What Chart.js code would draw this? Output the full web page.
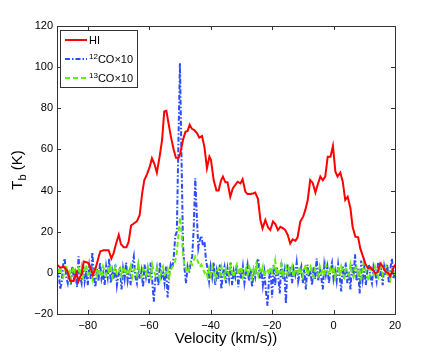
<!DOCTYPE html>
<html>
<head>
<meta charset="utf-8">
<script src="https://cdn.jsdelivr.net/npm/chart.js@4"></script>
<style>
  html, body { margin: 0; padding: 0; background: #fff; }
  #wrap { width: 436px; height: 354px; position: relative; }
</style>
</head>
<body>
<div id="wrap"><canvas id="myChart" width="436" height="354"></canvas></div>
<script>
// HI spectrum (velocity km/s, Tb K)
let hiVel = [-90, -88.9, -87.8, -86.7, -85.7, -84.6, -83.7, -83.0, -81.9, -81.3,
  -80.0, -79.2, -78.3, -77.3, -76.4, -75.9, -74.8, -73.9, -73.2, -72.3,
  -71.6, -70.8, -69.9, -69.2, -68.3, -67.4, -66.7, -65.9, -65.0, -64.0,
  -63.1, -62.3, -61.6, -60.7, -59.8, -59.1, -58.3, -57.5, -56.6, -55.8,
  -55.1, -54.4, -53.7, -52.9, -52.0, -51.3, -50.4, -49.9, -49.0, -48.2,
  -47.5, -46.8, -46.1, -45.3, -44.4, -43.7, -42.8, -42.0, -41.2, -40.4,
  -39.9, -39.0, -38.1, -37.4, -36.6, -36.0, -35.2, -34.5, -33.6, -32.8,
  -32.0, -31.2, -30.3, -29.6, -28.7, -28.0, -27.1, -26.2, -25.5, -24.6,
  -23.8, -23.1, -22.2, -21.3, -20.6, -19.7, -18.9, -18.1, -17.3, -16.4,
  -15.7, -14.9, -14.1, -13.3, -12.4, -11.7, -10.8, -9.9, -9.2, -8.4,
  -7.6, -6.8, -5.9, -5.2, -4.3, -3.5, -2.7, -1.9, -1.0, -0.2,
  0.6, 1.3, 2.2, 3.0, 3.8, 4.6, 5.5, 6.2, 7.1, 8.0,
  8.7, 9.6, 10.3, 11.2, 12.0, 12.7, 13.6, 14.4, 15.2, 16.1,
  16.9, 17.7, 18.5, 19.3, 20.0];
let hiTb = [4, 2.5, 3, 1, -4, -4, 0, -4, 0, 5.5,
  5, 3, -1, 3, 8, 10.5, 11, 11, 11, 7,
  9.5, 14, 18.5, 14, 12.5, 12.5, 15, 23, 24, 25,
  28, 38.5, 45, 48, 51.6, 55.7, 53, 48.7, 56.5, 64.6,
  78.4, 78.8, 72.7, 66, 59.7, 56, 56, 58, 64.6, 68.6,
  69, 72, 70, 69.4, 67.8, 65.7, 66.5, 61, 50.8, 56.5,
  55, 45, 40, 40, 45, 46.8, 44, 44, 37, 41,
  42.7, 44.3, 43.5, 45.5, 39.5, 38.3, 38.3, 38.6, 39, 36,
  25.7, 21.6, 25.7, 22, 20.8, 25, 23.6, 20.8, 22.4, 21.6,
  20.8, 18.4, 14.3, 16.3, 15.6, 17.3, 25, 27.3, 30.5, 35.4,
  45.1, 43.8, 39, 42.7, 46.8, 45, 46.8, 56.5, 56.5, 61.7,
  49.2, 46.8, 48.7, 44.3, 35.4, 37, 31.4, 22.4, 17.6, 17.3,
  11.9, 7.9, 4.6, 2.2, 2.7, 1.4, -0.2, 0.5, 4.6, 3,
  0.6, 0, -1.5, 1.7, 4];

// CO channels (km/s), one row per 10 km/s
let coVel = [-90, -89.5, -89, -88.5, -88, -87.5, -87, -86.5, -86, -85.5, -85, -84.5, -84, -83.5, -83, -82.5, -82, -81.5, -81, -80.5,
  -80, -79.5, -79, -78.5, -78, -77.5, -77, -76.5, -76, -75.5, -75, -74.5, -74, -73.5, -73, -72.5, -72, -71.5, -71, -70.5,
  -70, -69.5, -69, -68.5, -68, -67.5, -67, -66.5, -66, -65.5, -65, -64.5, -64, -63.5, -63, -62.5, -62, -61.5, -61, -60.5,
  -60, -59.5, -59, -58.5, -58, -57.5, -57, -56.5, -56, -55.5, -55, -54.5, -54, -53.5, -53, -52.5, -52, -51.5, -51, -50.5,
  -50, -49.5, -49, -48.5, -48, -47.5, -47, -46.5, -46, -45.5, -45, -44.5, -44, -43.5, -43, -42.5, -42, -41.5, -41, -40.5,
  -40, -39.5, -39, -38.5, -38, -37.5, -37, -36.5, -36, -35.5, -35, -34.5, -34, -33.5, -33, -32.5, -32, -31.5, -31, -30.5,
  -30, -29.5, -29, -28.5, -28, -27.5, -27, -26.5, -26, -25.5, -25, -24.5, -24, -23.5, -23, -22.5, -22, -21.5, -21, -20.5,
  -20, -19.5, -19, -18.5, -18, -17.5, -17, -16.5, -16, -15.5, -15, -14.5, -14, -13.5, -13, -12.5, -12, -11.5, -11, -10.5,
  -10, -9.5, -9, -8.5, -8, -7.5, -7, -6.5, -6, -5.5, -5, -4.5, -4, -3.5, -3, -2.5, -2, -1.5, -1, -0.5,
  0, 0.5, 1, 1.5, 2, 2.5, 3, 3.5, 4, 4.5, 5, 5.5, 6, 6.5, 7, 7.5, 8, 8.5, 9, 9.5,
  10, 10.5, 11, 11.5, 12, 12.5, 13, 13.5, 14, 14.5, 15, 15.5, 16, 16.5, 17, 17.5, 18, 18.5, 19, 19.5,
  20];
// 12CO x10
let co12 = [-3, 2, -8, -5, 4, 7, -2, -5, 1, -6, 3, -3, 0, -7, 8, -2, -5, 4, -4, 1,
  -6, 3, -3, 10, -2, -7, 2, -4, 5, -3, 0, -6, 3, -2, 7, -5, 1, -3, 4, -6,
  -1, 3, -8, 2, -3, 5, -4, 0, -6, 4, 8, -2, -5, 3, -3, 1, -7, 4, -2, 2,
  -5, 5, -4, -14, -3, 2, -6, 5, -2, 0, -5, 3, -12, -1, 4, 2, 8, 18, 20, 62,
  102, 58, 14, 2, -5, 3, 0, 5, 8, 22, 46, 28, 12, 16, 18, 13, 15, 6, 2, -4,
  3, -2, 5, -6, 1, -3, 4, -8, 0, 3, -5, 2, -3, 5, -6, 1, -2, 4, -7, 2,
  -3, 3, -5, 0, 4, -4, 2, -7, 1, -2, 5, 7, -3, 2, -6, 0, -9, -16, -3, 2,
  -12, 4, -6, 3, -2, -10, 5, -3, 1, -15, 4, -2, 3, -5, 2, -1, 5, -4, 0, 3,
  -5, 2, -8, 4, -2, 1, -6, 3, -3, 7, -4, 2, -2, -8, 4, -1, 3, -5, 2, 5,
  -3, 1, -4, 4, -2, -9, 3, -3, 5, -5, 1, -8, 4, -2, 9, -4, 2, -10, 6, -3,
  3, -6, 1, 4, -2, -5, 3, 0, -4, 5, -2, 2, -6, 3, -1, 4, -5, 2, 7, -3,
  1];
// 13CO x10
let co13 = [2, -1, 3, 0, -2, 1, 4, -1, 2, -3, 1, 3, -2, 0, 2, -1, 3, -2, 1, 4,
  -1, 0, 2, -3, 1, 3, -1, 2, 0, -2, 3, 1, -1, 2, 0, 4, -2, 1, 3, -1,
  0, 2, -2, 3, 1, -1, 2, 0, 3, -2, 1, 2, -1, 4, 0, -2, 2, 1, -1, 3,
  0, -2, 4, 1, -1, 2, 0, -3, 1, 3, -1, 0, 2, -2, 1, 3, 4, 6, 10, 18,
  27, 20, 9, 3, 2, 0, 3, 5, 4, 6, 8, 7, 5, 3, 4, 2, 0, 1, -2, 2,
  -1, 3, 0, -3, 1, 2, -1, 3, 0, -2, 2, 1, -1, 3, 0, -2, 2, 4, -1, 1,
  3, -2, 0, 2, -1, 3, 1, -2, 2, 0, 4, -1, 2, 0, 3, -2, 1, 2, -1, 3,
  0, 2, 6, -1, 2, 0, 4, -2, 1, 3, -1, 2, 0, 3, -2, 1, 2, -1, 3, 0,
  -2, 2, 4, -1, 1, 3, 0, -2, 2, 1, -1, 3, 0, 2, -2, 4, 1, -1, 2, 0,
  3, -2, 1, 2, -1, 3, 0, -2, 2, 1, -1, 4, 0, -2, 2, 3, -1, 1, -3, 2,
  7, 0, -2, -4, 2, 1, -1, 3, 0, -2, 2, 4, -1, 1, 3, -2, 0, -3, 2, 1,
  -1];

let xTicks = [-80, -60, -40, -20, 0, 20];
let yTicks = [-20, 0, 20, 40, 60, 80, 100, 120];

const RED = '#ff0000';
const BLUE = '#2b4cff';
const GREEN = '#66f000';
const FONT = '"Liberation Sans", Arial, sans-serif';

function pts(xs, ys) {
  return xs.map((x, i) => ({ x: x, y: ys[i] }));
}

const legendItems = [
  { sup: '', text: 'HI', color: RED, dash: [] },
  { sup: '12', text: 'CO\u00d710', color: BLUE, dash: [5, 2, 1.5, 2] },
  { sup: '13', text: 'CO\u00d710', color: GREEN, dash: [5, 3] }
];

const frame = {
  id: 'frame',
  afterDraw(chart) {
    const ctx = chart.ctx;
    const a = chart.chartArea;
    const xs = chart.scales.x, ys = chart.scales.y;
    ctx.save();
    ctx.strokeStyle = '#333';
    ctx.lineWidth = 1;
    ctx.strokeRect(Math.round(a.left) + 0.5, Math.round(a.top) + 0.5,
      Math.round(a.right - a.left), Math.round(a.bottom - a.top));
    ctx.beginPath();
    xTicks.forEach(v => {
      const px = Math.round(xs.getPixelForValue(v)) + 0.5;
      ctx.moveTo(px, a.bottom); ctx.lineTo(px, a.bottom - 4);
      ctx.moveTo(px, a.top); ctx.lineTo(px, a.top + 4);
    });
    yTicks.forEach(v => {
      const py = Math.round(ys.getPixelForValue(v)) + 0.5;
      ctx.moveTo(a.left, py); ctx.lineTo(a.left + 4, py);
      ctx.moveTo(a.right, py); ctx.lineTo(a.right - 4, py);
    });
    ctx.stroke();

    // legend
    const lx = a.left + 3, ly = a.top + 4, lw = 77, lh = 57;
    ctx.fillStyle = '#fff';
    ctx.fillRect(lx, ly, lw, lh);
    ctx.strokeStyle = '#333';
    ctx.strokeRect(Math.round(lx) + 0.5, Math.round(ly) + 0.5, lw, lh);
    legendItems.forEach((it, i) => {
      const cy = ly + 10 + i * 19;
      ctx.strokeStyle = it.color;
      ctx.lineWidth = 2;
      ctx.setLineDash(it.dash);
      ctx.beginPath();
      ctx.moveTo(lx + 5, cy); ctx.lineTo(lx + 27, cy);
      ctx.stroke();
      ctx.setLineDash([]);
      ctx.fillStyle = '#000';
      ctx.textBaseline = 'alphabetic';
      ctx.textAlign = 'left';
      let tx = lx + 29;
      if (it.sup) {
        ctx.font = '8px ' + FONT;
        ctx.fillText(it.sup, tx, cy);
        tx += ctx.measureText(it.sup).width;
      }
      ctx.font = '11px ' + FONT;
      ctx.fillText(it.text, tx, cy + 4);
    });

    // x title
    ctx.fillStyle = '#000';
    ctx.font = '15px ' + FONT;
    ctx.textAlign = 'center';
    ctx.textBaseline = 'alphabetic';
    ctx.fillText('Velocity (km/s))', (a.left + a.right) / 2, 343);

    // y title with subscript
    ctx.translate(22, (a.top + a.bottom) / 2);
    ctx.rotate(-Math.PI / 2);
    ctx.font = '15px ' + FONT;
    const wT = ctx.measureText('T').width;
    const wK = ctx.measureText(' (K)').width;
    ctx.font = '11px ' + FONT;
    const wb = ctx.measureText('b').width;
    let sx = -(wT + wb + wK) / 2;
    ctx.textAlign = 'left';
    ctx.font = '15px ' + FONT;
    ctx.fillText('T', sx, 0);
    sx += wT;
    ctx.font = '11px ' + FONT;
    ctx.fillText('b', sx, 4);
    sx += wb;
    ctx.font = '15px ' + FONT;
    ctx.fillText(' (K)', sx, 0);
    ctx.restore();
  }
};

const ctx = document.getElementById('myChart').getContext('2d');
new Chart(ctx, {
  type: 'line',
  data: {
    datasets: [
      { label: 'HI', data: pts(hiVel, hiTb), borderColor: RED, borderWidth: 2, pointRadius: 0, tension: 0, fill: false },
      { label: '13CO', data: pts(coVel, co13), borderColor: GREEN, borderWidth: 2, borderDash: [5, 3], pointRadius: 0, tension: 0, fill: false },
      { label: '12CO', data: pts(coVel, co12), borderColor: BLUE, borderWidth: 2, borderDash: [5, 2, 1.5, 2], pointRadius: 0, tension: 0, fill: false }
    ]
  },
  options: {
    responsive: false,
    animation: false,
    layout: { padding: { left: 0, top: 26, right: 41, bottom: 0 } },
    plugins: { legend: { display: false }, tooltip: { enabled: false } },
    scales: {
      x: {
        type: 'linear',
        min: -90, max: 20,
        grid: { display: false, drawTicks: false },
        border: { display: false },
        afterBuildTicks: s => { s.ticks = xTicks.map(v => ({ value: v })); },
        afterFit: s => { s.height = 40; },
        ticks: {
          padding: 5,
          color: '#000',
          font: { family: FONT, size: 11 },
          maxRotation: 0,
          callback: v => String(v).replace('-', '\u2212')
        }
      },
      y: {
        type: 'linear',
        min: -20, max: 120,
        grid: { display: false, drawTicks: false },
        border: { display: false },
        afterBuildTicks: s => { s.ticks = yTicks.map(v => ({ value: v })); },
        afterFit: s => { s.width = 57; },
        ticks: {
          padding: 4,
          color: '#000',
          font: { family: FONT, size: 11 },
          callback: v => String(v).replace('-', '\u2212')
        }
      }
    }
  },
  plugins: [frame]
});
</script>
</body>
</html>
